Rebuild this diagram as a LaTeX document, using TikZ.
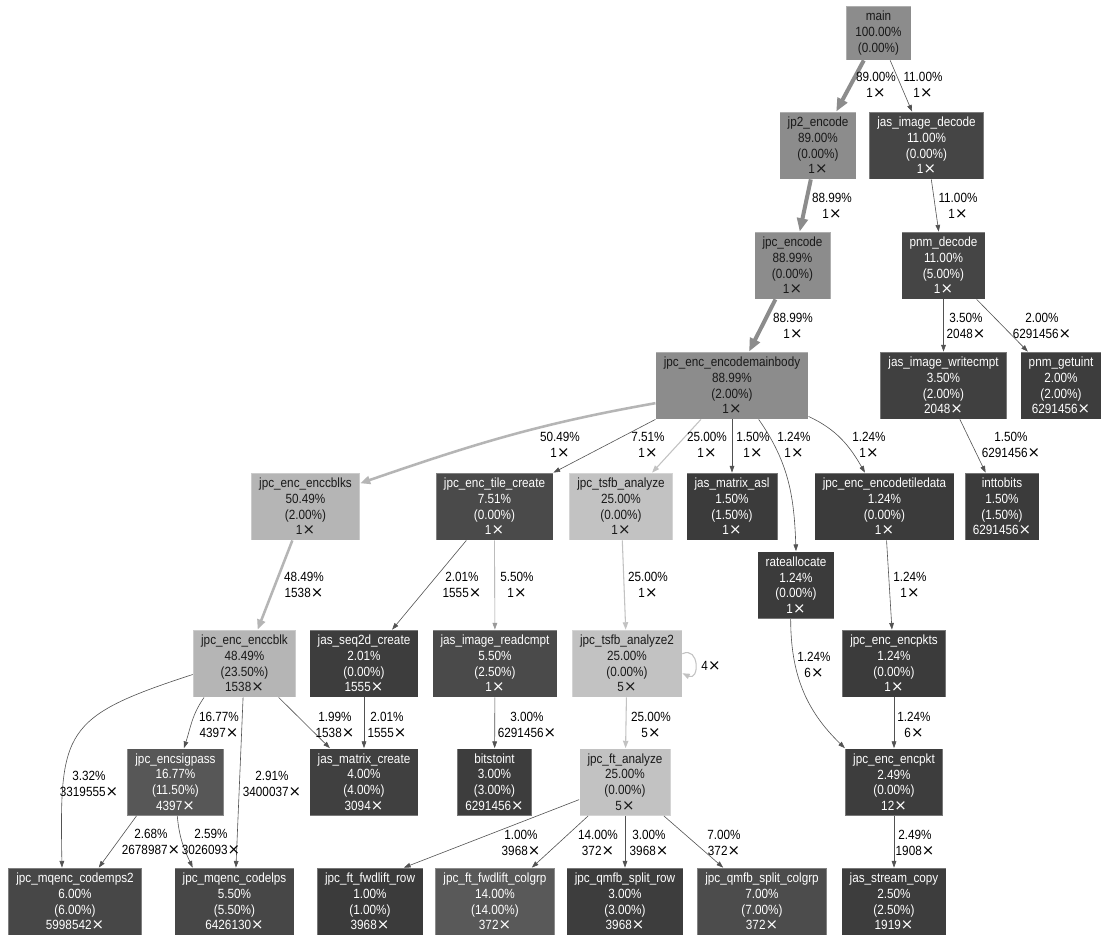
\documentclass[tikz,border=0pt]{standalone}
\usepackage{fontspec}
\setmainfont{Liberation Sans}[FakeStretch=0.88]
\newfontfamily\xfont{DejaVu Sans}[Scale=1.12]
\usetikzlibrary{arrows.meta}
\newcommand\gfont{\fontsize{10}{11.7}\selectfont}
\newcommand\tms{{\xfont ×}}

\begin{document}
\begin{tikzpicture}[x=0.75pt,y=-0.75pt,semithick,
  fn/.style={fill=#1,draw=white,draw opacity=0.3,line width=0.6pt,inner xsep=6pt,inner ysep=1pt,
    minimum width=48.75pt,minimum height=50.25pt,align=center,font=\gfont},
  lt/.style={fn=#1,text=black!90},
  dk/.style={fn=#1,text=white},
  lbl/.style={align=center,inner sep=0pt,font=\gfont},
  call/.style={draw=black!68,line width=0.45pt,-{Triangle[length=5pt,width=3.5pt]}},
  hotcall/.style={draw=black!45,line width=3pt,-{Triangle[length=10pt,width=8pt]}},
  warmcall/.style={draw=black!29,line width=1.9pt,-{Triangle[length=7.5pt,width=6pt]}},
  coolcall/.style={draw=black!24,line width=0.8pt,-{Triangle[length=5.5pt,width=4pt]}}]
      \fill[white] (0,0) rectangle (1112,942);
      \path (878.5,33) node[lt=black!45,minimum height=40.5pt] (main) {main\\100.00\%\\(0.00\%)};
      \path (818,145.5) node[lt=black!45] (jp2enc) {jp2\_encode\\89.00\%\\(0.00\%)\\1\tms};
      \path (926.5,145.5) node[dk=black!73] (imgdec) {jas\_image\_decode\\11.00\%\\(0.00\%)\\1\tms};
      \path (792.5,265.5) node[lt=black!45] (jpcenc) {jpc\_encode\\88.99\%\\(0.00\%)\\1\tms};
      \path (943.5,265.5) node[dk=black!73] (pnmdec) {pnm\_decode\\11.00\%\\(5.00\%)\\1\tms};
      \path (732,385.5) node[lt=black!45] (mainbody) {jpc\_enc\_encodemainbody\\88.99\%\\(2.00\%)\\1\tms};
      \path (943.5,385.5) node[dk=black!75] (writecmpt) {jas\_image\_writecmpt\\3.50\%\\(2.00\%)\\2048\tms};
      \path (1061,385.5) node[dk=black!76] (getuint) {pnm\_getuint\\2.00\%\\(2.00\%)\\6291456\tms};
      \path (305.5,506.5) node[lt=black!29] (cblks) {jpc\_enc\_enccblks\\50.49\%\\(2.00\%)\\1\tms};
      \path (494.5,506.5) node[dk=black!71] (tilecr) {jpc\_enc\_tile\_create\\7.51\%\\(0.00\%)\\1\tms};
      \path (621,506.5) node[lt=black!24] (tsfb) {jpc\_tsfb\_analyze\\25.00\%\\(0.00\%)\\1\tms};
      \path (732,506.5) node[dk=black!77] (asl) {jas\_matrix\_asl\\1.50\%\\(1.50\%)\\1\tms};
      \path (884.5,506.5) node[dk=black!77] (tiledata) {jpc\_enc\_encodetiledata\\1.24\%\\(0.00\%)\\1\tms};
      \path (1002,506.5) node[dk=black!77] (inttob) {inttobits\\1.50\%\\(1.50\%)\\6291456\tms};
      \path (796,585) node[dk=black!77] (rateal) {rateallocate\\1.24\%\\(0.00\%)\\1\tms};
      \path (244.5,663.5) node[lt=black!29] (cblk) {jpc\_enc\_enccblk\\48.49\%\\(23.50\%)\\1538\tms};
      \path (364,663.5) node[dk=black!76] (seq2d) {jas\_seq2d\_create\\2.01\%\\(0.00\%)\\1555\tms};
      \path (495,663.5) node[dk=black!71] (readcmpt) {jas\_image\_readcmpt\\5.50\%\\(2.50\%)\\1\tms};
      \path (627,663.5) node[lt=black!24] (tsfbtwo) {jpc\_tsfb\_analyze2\\25.00\%\\(0.00\%)\\5\tms};
      \path (894,663.5) node[dk=black!77] (encpkts) {jpc\_enc\_encpkts\\1.24\%\\(0.00\%)\\1\tms};
      \path (175.5,782) node[dk=black!66] (sigpass) {jpc\_encsigpass\\16.77\%\\(11.50\%)\\4397\tms};
      \path (364,782) node[dk=black!75] (mxcreate) {jas\_matrix\_create\\4.00\%\\(4.00\%)\\3094\tms};
      \path (494.5,782) node[dk=black!76] (bitsto) {bitstoint\\3.00\%\\(3.00\%)\\6291456\tms};
      \path (625,782) node[lt=black!24] (ftan) {jpc\_ft\_analyze\\25.00\%\\(0.00\%)\\5\tms};
      \path (894,782) node[dk=black!76] (encpkt) {jpc\_enc\_encpkt\\2.49\%\\(0.00\%)\\12\tms};
      \path (75,901.5) node[dk=black!72] (mps) {jpc\_mqenc\_codemps2\\6.00\%\\(6.00\%)\\5998542\tms};
      \path (234.5,901.5) node[dk=black!72] (lps) {jpc\_mqenc\_codelps\\5.50\%\\(5.50\%)\\6426130\tms};
      \path (370,901.5) node[dk=black!77] (liftrow) {jpc\_ft\_fwdlift\_row\\1.00\%\\(1.00\%)\\3968\tms};
      \path (495,901.5) node[dk=black!65] (liftcol) {jpc\_ft\_fwdlift\_colgrp\\14.00\%\\(14.00\%)\\372\tms};
      \path (625,901.5) node[dk=black!76] (splitrow) {jpc\_qmfb\_split\_row\\3.00\%\\(3.00\%)\\3968\tms};
      \path (762,901.5) node[dk=black!70] (splitcol) {jpc\_qmfb\_split\_colgrp\\7.00\%\\(7.00\%)\\372\tms};
      \path (894,901.5) node[dk=black!76] (scopy) {jas\_stream\_copy\\2.50\%\\(2.50\%)\\1919\tms};

      \draw[hotcall] (main) -- (jp2enc);
      \draw[call] (main) -- (imgdec);
      \draw[hotcall] (jp2enc) -- (jpcenc);
      \draw[call] (imgdec) -- (pnmdec);
      \draw[hotcall] (jpcenc) -- (mainbody);
      \draw[call] (pnmdec) -- (writecmpt);
      \draw[call] (pnmdec) -- (getuint);
      \draw[call] (writecmpt) -- (inttob);
      \draw[warmcall] (mainbody.193) to[out=190,in=19] (cblks.23);
      \draw[call] (mainbody.south west) -- (tilecr.north east);
      \draw[coolcall] (mainbody) -- (tsfb);
      \draw[call] (mainbody) -- (asl);
      \draw[call] ([xshift=20pt]mainbody.south) to[out=-55,in=92] (rateal.north);
      \draw[call] (mainbody.-22) to[out=-25,in=120] (tiledata.120);
      \draw[warmcall] (cblks) -- (cblk);
      \draw[call] (tilecr) -- (seq2d);
      \draw[call,draw=black!40] (tilecr) -- (readcmpt);
      \draw[coolcall] (tsfb) -- (tsfbtwo);
      \draw[call] (tiledata) -- (encpkts);
      \draw[coolcall] (tsfbtwo.10) to[out=25,in=-25,looseness=2.5] (tsfbtwo.-10);
      \draw[call] ([xshift=-4pt]rateal.south) to[out=-90,in=136] (encpkt.north west);
      \draw[call] (encpkts) -- (encpkt);
      \draw[call] (cblk.220) to[out=-125,in=72] (sigpass.76);
      \draw[call] (cblk.192) to[out=198,in=91,looseness=1.5] (mps.111);
      \draw[call] (cblk) -- (lps);
      \draw[call] (cblk) -- (mxcreate);
      \draw[call] (seq2d) -- (mxcreate);
      \draw[call] (readcmpt) -- (bitsto);
      \draw[coolcall] (tsfbtwo) -- (ftan);
      \draw[call] (encpkt) -- (scopy);
      \draw[call] (sigpass.221) -- (mps.55);
      \draw[call] (sigpass.-87) to[out=-85,in=115] (lps.141);
      \draw[call] (ftan.201) -- (liftrow.45);
      \draw[call] (ftan) -- (liftcol);
      \draw[call] (ftan) -- (splitrow);
      \draw[call] (ftan) -- (splitcol);

      \path (876,85) node[lbl] (p1) {89.00\%\\1\tms};
      \path (923,85) node[lbl] (p2) {11.00\%\\1\tms};
      \path (832,206) node[lbl] (p3) {88.99\%\\1\tms};
      \path (958,206) node[lbl] (p4) {11.00\%\\1\tms};
      \path (793,326) node[lbl] (p5) {88.99\%\\1\tms};
      \path (966,326) node[lbl] (p6) {3.50\%\\2048\tms};
      \path (1042,326) node[lbl] (p7) {2.00\%\\6291456\tms};
      \path (1011,445) node[lbl] (p8) {1.50\%\\6291456\tms};
      \path (560,445) node[lbl] (p9) {50.49\%\\1\tms};
      \path (648,445) node[lbl] (p10) {7.51\%\\1\tms};
      \path (707,445) node[lbl] (p11) {25.00\%\\1\tms};
      \path (753,445) node[lbl] (p12) {1.50\%\\1\tms};
      \path (794,445) node[lbl] (p13) {1.24\%\\1\tms};
      \path (869,445) node[lbl] (p14) {1.24\%\\1\tms};
      \path (304,585) node[lbl] (p15) {48.49\%\\1538\tms};
      \path (462,585) node[lbl] (p16) {2.01\%\\1555\tms};
      \path (517,585) node[lbl] (p17) {5.50\%\\1\tms};
      \path (648,585) node[lbl] (p18) {25.00\%\\1\tms};
      \path (910,585) node[lbl] (p19) {1.24\%\\1\tms};
      \path (711,666) node[lbl] (p20) {4\tms};
      \path (814,665) node[lbl] (p21) {1.24\%\\6\tms};
      \path (219,725) node[lbl] (p22) {16.77\%\\4397\tms};
      \path (89,784) node[lbl] (p23) {3.32\%\\3319555\tms};
      \path (272,784) node[lbl] (p24) {2.91\%\\3400037\tms};
      \path (335,725) node[lbl] (p25) {1.99\%\\1538\tms};
      \path (387,725) node[lbl] (p26) {2.01\%\\1555\tms};
      \path (527,725) node[lbl] (p27) {3.00\%\\6291456\tms};
      \path (651,725) node[lbl] (p28) {25.00\%\\5\tms};
      \path (914,725) node[lbl] (p29) {1.24\%\\6\tms};
      \path (151,842) node[lbl] (p30) {2.68\%\\2678987\tms};
      \path (211,842) node[lbl] (p31) {2.59\%\\3026093\tms};
      \path (521,843) node[lbl] (p32) {1.00\%\\3968\tms};
      \path (598,843) node[lbl] (p33) {14.00\%\\372\tms};
      \path (649,843) node[lbl] (p34) {3.00\%\\3968\tms};
      \path (724,843) node[lbl] (p35) {7.00\%\\372\tms};
      \path (915,843) node[lbl] (p36) {2.49\%\\1908\tms};
    \end{tikzpicture}
\end{document}
